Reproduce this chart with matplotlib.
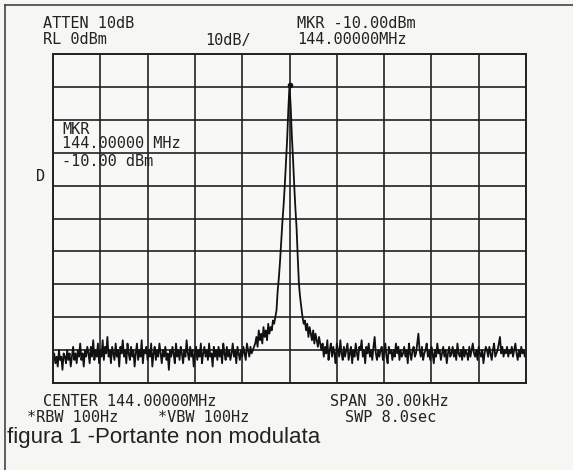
import numpy as np
import matplotlib
matplotlib.use("Agg")
import matplotlib.pyplot as plt

# ── Trace data (401 sweep points over 30 kHz span, levels in dBm) ─────────────
noise_left = [
    -93, -91, -94, -92, -95, -90, -93, -92, -96, -91,
    -92, -94, -90, -93, -91, -95, -92, -89, -93, -91,
    -94, -90, -92, -88, -93, -91, -95, -90, -92, -89,
    -91, -94, -89, -92, -87, -93, -90, -92, -88, -94,
    -90, -92, -87, -93, -89, -91, -86, -92, -90, -94,
    -89, -91, -93, -88, -92, -90, -95, -89, -91, -87,
    -92, -90, -94, -88, -91, -93, -89, -92, -90, -95,
    -91, -88, -93, -90, -92, -87, -94, -90, -91, -89,
    -93, -90, -92, -88, -95, -91, -89, -93, -90, -92,
    -88, -91, -94, -90, -92, -89, -93, -91, -96, -90,
    -92, -89, -91, -94, -88, -92, -90, -93, -89, -91,
    -94, -90, -92, -87, -91, -93, -89, -92, -90, -95,
    -91, -89, -93, -90, -92, -88, -94, -91, -89, -92,
    -90, -93, -88, -92, -91, -95, -89, -92, -90, -93,
    -89, -92, -90, -94, -88, -91, -93, -89, -92, -90,
    -93, -91, -88, -92, -90, -94, -89, -91, -93, -90,
    -92, -89, -91, -93, -88, -90, -92, -89, -91, -90,
    -89,
]
skirt_left = [-88, -86, -89, -84, -87, -85, -88, -83, -86, -84,
              -87, -82, -85, -83, -84, -81, -82]
carrier = [-80, -78, -72, -68, -63, -57, -51, -46, -40, -33, -26, -17, -9.5,
           -16, -25, -32, -40, -47, -53, -62, -70, -74, -77, -80, -82]
skirt_right = [-81, -84, -82, -86, -83, -85, -87, -84, -88, -85, -87, -89, -86, -88]
noise_right = [
    -90, -88, -92, -89, -91, -87, -93, -90, -88, -92,
    -89, -91, -94, -88, -90, -92, -87, -91, -93, -89,
    -92, -90, -88, -93, -91, -89, -94, -90, -92, -88,
    -91, -93, -89, -90, -87, -92, -90, -94, -89, -91,
    -88, -92, -90, -93, -89, -86, -91, -93, -90, -92,
    -90, -89, -93, -91, -88, -92, -94, -89, -91, -90,
    -93, -90, -92, -88, -91, -89, -93, -90, -92, -91,
    -89, -92, -90, -94, -88, -91, -93, -90, -89, -92,
    -91, -88, -85, -90, -92, -89, -93, -91, -90, -88,
    -92, -90, -93, -89, -91, -94, -90, -92, -88, -91,
    -90, -93, -91, -89, -92, -90, -94, -91, -89, -92,
    -91, -89, -92, -90, -93, -88, -91, -92, -90, -93,
    -89, -92, -90, -91, -93, -89, -92, -90, -88, -91,
    -92, -90, -93, -89, -91, -92, -90, -94, -91, -89,
    -90, -92, -89, -91, -93, -90, -88, -92, -91, -90,
    -88, -86, -91, -89, -92, -90, -91, -89, -92, -90,
    -91, -89, -92, -90, -88, -91, -93, -90, -92, -89,
    -91, -90, -92, -90,
]
levels = noise_left + skirt_left + carrier + skirt_right + noise_right
n_points = len(levels)
span_khz = 30.0
ref_level = 0
db_per_div = 10
marker_level = -10.00

# ── Figure ────────────────────────────────────────────────────────────────────
W, H = 573, 470
fig = plt.figure(figsize=(W / 100, H / 100), dpi=100)
fig.patch.set_facecolor("#f6f6f3")

def fx(px):
    return px / W

def fy(py):
    return 1 - py / H

# outer frame of the photo
fig.add_artist(plt.Line2D([fx(5), fx(5)], [fy(5), 0], color="#444", lw=1.2))
fig.add_artist(plt.Line2D([fx(5), 1], [fy(5), fy(5)], color="#444", lw=1.2))

ax = fig.add_axes([fx(53), fy(383), fx(526) - fx(53), fy(54) - fy(383)])
ax.set_facecolor("#f8f8f6")
freq = np.linspace(-span_khz / 2, span_khz / 2, n_points)
ax.plot(freq, levels, color="#111", lw=1.3)
ax.plot([0], [carrier[12]], marker="o", ms=3, color="#111")

ax.set_xlim(-span_khz / 2, span_khz / 2)
ax.set_ylim(ref_level - 10 * db_per_div, ref_level)
ax.set_xticks(np.linspace(-span_khz / 2, span_khz / 2, 11))
ax.set_yticks(np.arange(ref_level - 10 * db_per_div, ref_level + 1, db_per_div))
ax.grid(True, color="#222", lw=1.2)
ax.tick_params(length=0, labelbottom=False, labelleft=False)
for s in ax.spines.values():
    s.set_color("#222")
    s.set_linewidth(1.4)

# ── Annotations ───────────────────────────────────────────────────────────────
mono = dict(family="DejaVu Sans Mono", fontsize=11, color="#222", va="center")
fig.text(fx(43), fy(24), "ATTEN 10dB", **mono)
fig.text(fx(43), fy(40), "RL 0dBm", **mono)
fig.text(fx(205), fy(40), "10dB/", **mono)
fig.text(fx(297), fy(24), f"MKR {marker_level:.2f}dBm", **mono)
fig.text(fx(297), fy(40), "144.00000MHz", **mono)

fig.text(fx(62), fy(129), "MKR", **mono)
fig.text(fx(62), fy(143), "144.00000 MHz", **mono)
fig.text(fx(62), fy(162), f"{marker_level:.2f} dBm", **mono)
fig.text(fx(36), fy(177), "D", **mono)

fig.text(fx(43), fy(402), "CENTER 144.00000MHz", **mono)
fig.text(fx(330), fy(402), "SPAN 30.00kHz", **mono)
fig.text(fx(27), fy(418), "*RBW 100Hz", **mono)
fig.text(fx(158), fy(418), "*VBW 100Hz", **mono)
fig.text(fx(345), fy(418), "SWP 8.0sec", **mono)

fig.text(fx(7), fy(437), "figura 1 -Portante non modulata",
         family="Liberation Sans", fontsize=16, color="#222", va="center")

plt.savefig("out.png", dpi=100)
plt.close()
